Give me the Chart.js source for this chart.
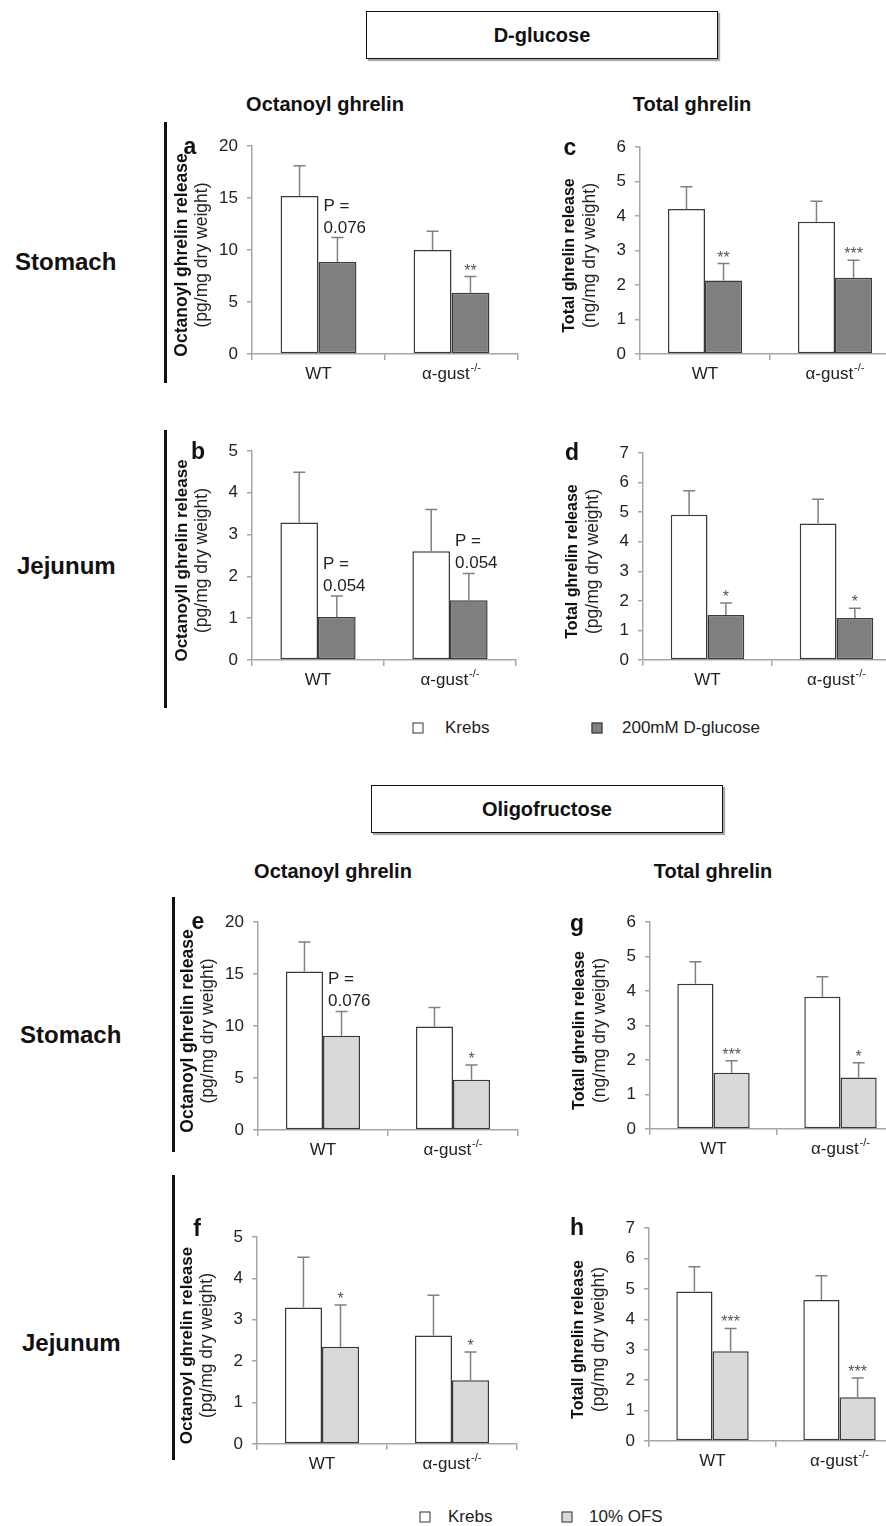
<!DOCTYPE html>
<html>
<head>
<meta charset="utf-8">
<script src="https://cdn.jsdelivr.net/npm/chart.js@4.4.1/dist/chart.umd.min.js"></script>
<style>
  html, body { margin: 0; padding: 0; background: #fff; overflow: hidden; }
  body { width: 886px; height: 1526px; position: relative; font-family: "Liberation Sans", Arial, sans-serif; color: #111; }
  .abs { position: absolute; white-space: nowrap; }
  .ctr { transform: translate(-50%, -50%); }
  .midy { transform: translateY(-50%); }
  .box { position: absolute; border: 1.5px solid #111; box-shadow: 2px 2px 1px #aaa; background: #fff;
         display: flex; align-items: center; justify-content: center; font-weight: bold; font-size: 20px; }
  .head { font-weight: bold; font-size: 20px; }
  .row { font-weight: bold; font-size: 24px; }
  .letter { font-weight: bold; font-size: 23px; }
  .vline { position: absolute; width: 3px; background: #111; }
  .leg { font-size: 17px; color: #222; }
  .sq { position: absolute; width: 9px; height: 9px; border: 1px solid #333; transform: translate(-50%, -50%); }
  canvas { position: absolute; }
</style>
</head>
<body>
<div class="box" style="left:366px;top:11px;width:350px;height:46px">D-glucose</div>
<div class="box" style="left:371px;top:785px;width:350px;height:46px">Oligofructose</div>

<div class="abs ctr head" style="left:325px;top:104px">Octanoyl ghrelin</div>
<div class="abs ctr head" style="left:692px;top:104px">Total ghrelin</div>
<div class="abs ctr head" style="left:333px;top:871px">Octanoyl ghrelin</div>
<div class="abs ctr head" style="left:713px;top:871px">Total ghrelin</div>

<div class="abs midy row" style="left:15px;top:262px">Stomach</div>
<div class="abs midy row" style="left:17px;top:566px">Jejunum</div>
<div class="abs midy row" style="left:20px;top:1035px">Stomach</div>
<div class="abs midy row" style="left:22px;top:1343px">Jejunum</div>

<div class="vline" style="left:164px;top:122px;height:261px"></div>
<div class="vline" style="left:164px;top:430px;height:278px"></div>
<div class="vline" style="left:172px;top:897px;height:255px"></div>
<div class="vline" style="left:172px;top:1175px;height:285px"></div>

<div id="legend1"></div>
<div id="legend2"></div>

<script>
const FONT = '"Liberation Sans", Arial, sans-serif'
const AXIS = '#a6a6a6'
const BAR_EDGE = '#3a3a3a'
const KREBS_FILL = '#ffffff'
const GLUCOSE_FILL = '#7f7f7f'
const OFS_FILL = '#d9d9d9'

// categories
const genotypes = ['WT', 'α-gust']
const genotypeSup = ['', '-/-']
const seriesGlucose = ['Krebs', '200mM D-glucose']
const seriesOfs = ['Krebs', '10% OFS']

// a - stomach, octanoyl, D-glucose
const krebsA = [15.2, 10.0]
const krebsErrA = [2.9, 1.8]
const glucoseA = [8.85, 5.9]
const glucoseErrA = [2.35, 1.55]
const signifA = ['P =|0.076', '**']
const ticksA = [0, 5, 10, 15, 20]

// b - jejunum, octanoyl, D-glucose
const krebsB = [3.29, 2.6]
const krebsErrB = [1.2, 1.0]
const glucoseB = [1.03, 1.43]
const glucoseErrB = [0.5, 0.64]
const signifB = ['P =|0.054', 'P =|0.054']
const ticksB = [0, 1, 2, 3, 4, 5]

// c - stomach, total, D-glucose
const krebsC = [4.2, 3.83]
const krebsErrC = [0.65, 0.6]
const glucoseC = [2.13, 2.21]
const glucoseErrC = [0.49, 0.51]
const signifC = ['**', '***']
const ticksC = [0, 1, 2, 3, 4, 5, 6]

// d - jejunum, total, D-glucose
const krebsD = [4.91, 4.62]
const krebsErrD = [0.81, 0.82]
const glucoseD = [1.52, 1.42]
const glucoseErrD = [0.41, 0.33]
const signifD = ['*', '*']
const ticksD = [0, 1, 2, 3, 4, 5, 6, 7]

// e - stomach, octanoyl, OFS
const krebsE = [15.25, 9.95]
const krebsErrE = [2.83, 1.83]
const ofsE = [9.06, 4.82]
const ofsErrE = [2.34, 1.44]
const signifE = ['P =|0.076', '*']
const ticksE = [0, 5, 10, 15, 20]

// f - jejunum, octanoyl, OFS
const krebsF = [3.3, 2.62]
const krebsErrF = [1.21, 0.97]
const ofsF = [2.35, 1.54]
const ofsErrF = [1.01, 0.68]
const signifF = ['*', '*']
const ticksF = [0, 1, 2, 3, 4, 5]

// g - stomach, total, OFS
const krebsG = [4.21, 3.83]
const krebsErrG = [0.64, 0.58]
const ofsG = [1.63, 1.49]
const ofsErrG = [0.35, 0.43]
const signifG = ['***', '*']
const ticksG = [0, 1, 2, 3, 4, 5, 6]

// h - jejunum, total, OFS
const krebsH = [4.91, 4.63]
const krebsErrH = [0.82, 0.8]
const ofsH = [2.95, 1.44]
const ofsErrH = [0.75, 0.63]
const signifH = ['***', '***']
const ticksH = [0, 1, 2, 3, 4, 5, 6, 7]

// chart area boxes on the page: left, top, right, bottom
const panels = [
  {id: 'a', box: [252, 146, 518, 354], k: krebsA, ke: krebsErrA, t: glucoseA, te: glucoseErrA, sig: signifA, ticks: ticksA, fill: GLUCOSE_FILL, names: seriesGlucose, title: ['Octanoyl ghrelin release', '(pg/mg dry weight)'], tsize: 17.5, letter: [190, 146]},
  {id: 'b', box: [252, 451, 516, 660], k: krebsB, ke: krebsErrB, t: glucoseB, te: glucoseErrB, sig: signifB, ticks: ticksB, fill: GLUCOSE_FILL, names: seriesGlucose, title: ['Octanoyll ghrelin release', '(pg/mg dry weight)'], tsize: 17, letter: [198, 451]},
  {id: 'c', box: [640, 147, 900, 354], k: krebsC, ke: krebsErrC, t: glucoseC, te: glucoseErrC, sig: signifC, ticks: ticksC, fill: GLUCOSE_FILL, names: seriesGlucose, title: ['Total ghrelin release', '(ng/mg dry weight)'], tsize: 16, letter: [570, 147]},
  {id: 'd', box: [643, 453, 901, 660], k: krebsD, ke: krebsErrD, t: glucoseD, te: glucoseErrD, sig: signifD, ticks: ticksD, fill: GLUCOSE_FILL, names: seriesGlucose, title: ['Total ghrelin release', '(pg/mg dry weight)'], tsize: 16, letter: [572, 452]},
  {id: 'e', box: [258, 922, 518, 1130], k: krebsE, ke: krebsErrE, t: ofsE, te: ofsErrE, sig: signifE, ticks: ticksE, fill: OFS_FILL, names: seriesOfs, title: ['Octanoyl ghrelin release', '(pg/mg dry weight)'], tsize: 17.5, letter: [198, 921]},
  {id: 'f', box: [257, 1237, 517, 1444], k: krebsF, ke: krebsErrF, t: ofsF, te: ofsErrF, sig: signifF, ticks: ticksF, fill: OFS_FILL, names: seriesOfs, title: ['Octanoyl ghrelin release', '(pg/mg dry weight)'], tsize: 17, letter: [197, 1228]},
  {id: 'g', box: [650, 922, 904, 1129], k: krebsG, ke: krebsErrG, t: ofsG, te: ofsErrG, sig: signifG, ticks: ticksG, fill: OFS_FILL, names: seriesOfs, title: ['Totall ghrelin release', '(ng/mg dry weight)'], tsize: 16, letter: [577, 923]},
  {id: 'h', box: [649, 1228, 903, 1441], k: krebsH, ke: krebsErrH, t: ofsH, te: ofsErrH, sig: signifH, ticks: ticksH, fill: OFS_FILL, names: seriesOfs, title: ['Totall ghrelin release', '(pg/mg dry weight)'], tsize: 16, letter: [577, 1227]}
]

const PADL = 110, PADR = 12, PADT = 20, XH = 36, PADB = 4, YW = 60

Chart.defaults.font.family = FONT

// error bars, significance marks, axis titles and genotype labels
const extras = {
  id: 'extras',
  afterDatasetsDraw(chart) {
    const ctx = chart.ctx
    const y = chart.scales.y
    chart.data.datasets.forEach((ds, i) => {
      const meta = chart.getDatasetMeta(i)
      meta.data.forEach((bar, j) => {
        const top = y.getPixelForValue(ds.data[j] + ds.err[j])
        ctx.save()
        ctx.strokeStyle = '#808080'
        ctx.lineWidth = 1.5
        ctx.beginPath()
        ctx.moveTo(bar.x, bar.y)
        ctx.lineTo(bar.x, top)
        ctx.moveTo(bar.x - 6, top)
        ctx.lineTo(bar.x + 6, top)
        ctx.stroke()
        const s = ds.signif ? ds.signif[j] : ''
        if (s && s.startsWith('P')) {
          const lines = s.split('|')
          ctx.font = '17px ' + FONT
          ctx.fillStyle = '#222'
          ctx.textAlign = 'left'
          ctx.textBaseline = 'alphabetic'
          const x0 = bar.x - bar.width / 2 + 5
          lines.forEach((ln, k) => {
            ctx.fillText(ln, x0, top - 5 - (lines.length - 1 - k) * 22)
          })
        } else if (s) {
          ctx.font = '16px ' + FONT
          ctx.fillStyle = '#555'
          ctx.textAlign = 'center'
          ctx.textBaseline = 'alphabetic'
          ctx.fillText(s, bar.x, top - 1)
        }
        ctx.restore()
      })
    })
  },
  afterDraw(chart) {
    const ctx = chart.ctx
    const area = chart.chartArea
    const opts = chart.options.plugins.extras
    const title = opts.title
    const cy = (area.top + area.bottom) / 2 + 5
    ctx.save()
    ctx.translate(area.left - 70, cy)
    ctx.rotate(-Math.PI / 2)
    ctx.textAlign = 'center'
    ctx.textBaseline = 'middle'
    ctx.fillStyle = '#111'
    ctx.font = 'bold ' + opts.size + 'px ' + FONT
    ctx.fillText(title[0], 0, 0)
    ctx.fillStyle = '#222'
    ctx.font = '17.5px ' + FONT
    ctx.fillText(title[1], 0, 20)
    ctx.restore()

    // genotype labels with superscript
    const x = chart.scales.x
    ctx.save()
    ctx.fillStyle = '#222'
    ctx.textBaseline = 'middle'
    ctx.textAlign = 'left'
    chart.data.labels.forEach((lab, i) => {
      const sup = genotypeSup[i]
      ctx.font = '17px ' + FONT
      const w1 = ctx.measureText(lab).width
      ctx.font = '11px ' + FONT
      const w2 = sup ? ctx.measureText(sup).width + 1 : 0
      const cx = x.getPixelForValue(i)
      const x0 = cx - (w1 + w2) / 2
      const yy = area.bottom + 20
      ctx.font = '17px ' + FONT
      ctx.fillText(lab, x0, yy)
      if (sup) {
        ctx.font = '11px ' + FONT
        ctx.fillText(sup, x0 + w1 + 1, yy - 6)
      }
    })
    ctx.restore()
  }
}

panels.forEach(p => {
  const [l, t, r, b] = p.box
  const cv = document.createElement('canvas')
  const w = r - l + PADL + PADR
  const h = b - t + PADT + XH + PADB
  cv.width = w
  cv.height = h
  cv.style.left = (l - PADL) + 'px'
  cv.style.top = (t - PADT) + 'px'
  cv.style.width = w + 'px'
  cv.style.height = h + 'px'
  document.body.appendChild(cv)

  const let_ = document.createElement('div')
  let_.className = 'abs ctr letter'
  let_.style.left = p.letter[0] + 'px'
  let_.style.top = p.letter[1] + 'px'
  let_.textContent = p.id
  document.body.appendChild(let_)

  new Chart(cv, {
    type: 'bar',
    data: {
      labels: genotypes,
      datasets: [
        {label: p.names[0], data: p.k, err: p.ke, signif: null, backgroundColor: KREBS_FILL},
        {label: p.names[1], data: p.t, err: p.te, signif: p.sig, backgroundColor: p.fill}
      ]
    },
    options: {
      responsive: false,
      animation: false,
      devicePixelRatio: 1,
      layout: {padding: {left: PADL - YW, right: PADR, top: PADT, bottom: PADB}},
      datasets: {
        bar: {
          borderColor: BAR_EDGE,
          borderWidth: 1.5,
          borderSkipped: false,
          categoryPercentage: 0.57,
          barPercentage: 1.0
        }
      },
      plugins: {
        legend: {display: false},
        tooltip: {enabled: false},
        extras: {title: p.title, size: p.tsize}
      },
      scales: {
        x: {
          afterFit: s => { s.height = XH },
          grid: {display: true, drawOnChartArea: false, color: AXIS, tickLength: 6, lineWidth: 1.5},
          border: {color: AXIS, width: 1.5},
          ticks: {color: 'transparent', font: {size: 17}}
        },
        y: {
          min: 0,
          max: p.ticks[p.ticks.length - 1],
          afterBuildTicks: s => { s.ticks = p.ticks.map(v => ({value: v})) },
          afterFit: s => { s.width = YW },
          grid: {display: true, drawOnChartArea: false, color: AXIS, tickLength: 5, lineWidth: 1.5},
          border: {color: AXIS, width: 1.5},
          ticks: {color: '#222', font: {size: 17}, padding: 9}
        }
      }
    },
    plugins: [extras]
  })
})

// shared legends
function buildLegend(el, names, fills, xs, y) {
  names.forEach((n, i) => {
    const sq = document.createElement('div')
    sq.className = 'sq'
    sq.style.left = xs[i][0] + 'px'
    sq.style.top = y + 'px'
    sq.style.background = fills[i]
    el.appendChild(sq)
    const tx = document.createElement('div')
    tx.className = 'abs midy leg'
    tx.style.left = xs[i][1] + 'px'
    tx.style.top = y + 'px'
    tx.textContent = n
    el.appendChild(tx)
  })
}
buildLegend(document.getElementById('legend1'), seriesGlucose, [KREBS_FILL, GLUCOSE_FILL], [[418, 445], [597, 622]], 728)
buildLegend(document.getElementById('legend2'), seriesOfs, [KREBS_FILL, OFS_FILL], [[425, 448], [567, 589]], 1517)
</script>
</body>
</html>
